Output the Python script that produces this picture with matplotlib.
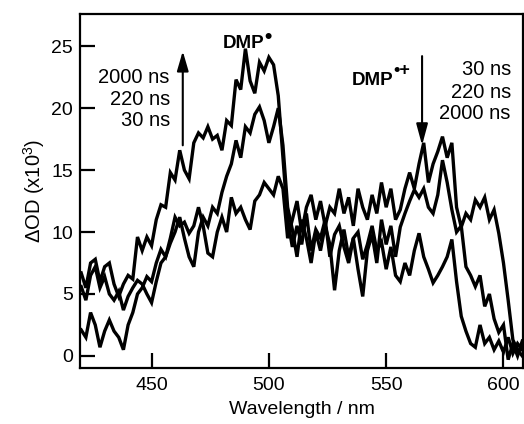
import matplotlib
matplotlib.use("Agg")
import matplotlib.pyplot as plt
import numpy as np

plt.rcParams['font.family'] = ['Liberation Sans', 'DejaVu Sans']
plt.rcParams['mathtext.fontset'] = 'custom'
plt.rcParams['mathtext.rm'] = 'Liberation Sans'
plt.rcParams['mathtext.it'] = 'Liberation Sans:italic'
plt.rcParams['mathtext.bf'] = 'Liberation Sans:bold'

wavelength = list(range(420, 609, 2))

od_2000ns = [6.7, 5.5, 7.5, 7.8, 6.0, 7.2, 7.5, 5.8, 4.8, 5.8,
             6.5, 6.2, 9.6, 8.5, 9.6, 8.9, 11.0, 12.2, 12.0, 14.8,
             14.2, 16.6, 15.0, 14.3, 17.2, 18.0, 17.6, 18.5, 17.5, 17.8,
             16.6, 19.0, 18.6, 22.3, 21.5, 24.8, 22.2, 21.2, 23.7, 23.0,
             24.1, 23.5, 21.0, 16.0, 11.0, 8.8, 10.5, 9.0, 11.5, 8.5,
             10.2, 9.5, 11.0, 8.0, 9.8, 10.5, 8.8, 7.5, 9.5, 10.0,
             7.8, 9.0, 10.5, 8.5, 9.2, 7.0, 8.8, 6.5, 6.0, 7.5,
             6.5, 8.5, 9.9, 8.0, 7.0, 5.9, 6.5, 7.2, 8.0, 9.4,
             6.0, 3.2, 2.0, 1.0, 0.7, 2.5, 1.0, 1.5, 0.5, 1.2,
             0.3, 1.5, 0.2, 1.0, 0.5]

od_220ns = [5.6, 4.5, 6.5, 7.2, 5.5, 6.4, 5.0, 4.5, 5.2, 3.7,
            4.8, 5.5, 6.1, 5.8, 5.0, 4.3, 6.0, 7.5, 8.0, 9.1,
            10.0, 11.2, 9.5, 8.0, 7.2, 10.0, 11.2, 10.5, 12.0, 11.5,
            13.2, 14.5, 15.5, 17.4, 16.0, 18.5, 18.0, 19.5, 20.1, 19.0,
            17.2, 18.5, 20.0, 17.0, 12.0, 10.2, 8.0, 11.0, 9.5, 7.5,
            10.0, 8.5, 10.5, 9.0, 5.3, 8.5, 10.2, 8.0, 9.5, 7.0,
            4.8, 8.5, 9.8, 7.5, 11.0, 9.0, 10.5, 8.0, 10.4, 11.5,
            12.5, 13.4, 12.8, 13.5, 12.0, 11.5, 13.0, 15.8, 14.0, 11.8,
            10.0, 10.5, 7.2, 6.5, 5.6, 6.5, 4.0, 5.0, 3.0, 1.9,
            2.5, -0.3, 1.0, 0.0, 1.2]

od_30ns = [2.1, 1.5, 3.5, 2.5, 0.7, 2.0, 2.9, 2.0, 1.5, 0.5,
           2.5, 3.5, 5.0, 5.5, 6.4, 6.0, 7.5, 8.6, 8.0, 9.5,
           11.2, 10.5, 10.8, 9.9, 10.5, 12.0, 10.5, 8.3, 8.0, 10.0,
           11.2, 10.0, 12.8, 11.5, 12.0, 11.0, 10.2, 12.5, 13.0, 14.0,
           13.5, 13.0, 14.5, 13.5, 9.5, 11.0, 12.5, 10.0, 12.0, 13.0,
           11.0, 12.5, 10.5, 12.0, 11.5, 13.5, 11.5, 12.8, 10.5, 13.5,
           12.0, 11.0, 13.0, 11.5, 14.0, 12.0, 13.5, 11.0, 11.8, 13.5,
           14.8, 13.5, 15.5, 17.2, 14.0, 15.5, 16.5, 17.7, 16.0, 17.2,
           12.0, 10.4, 11.5, 11.0, 12.6, 12.0, 12.8, 11.0, 11.8, 9.9,
           7.5, 4.5, 1.3, 0.5, 0.0]

x_ticks = [450, 500, 550, 600]
y_ticks = [0, 5, 10, 15, 20, 25]

fig = plt.figure(figsize=(5.24, 4.24), dpi=100)
ax = fig.add_axes([0.1527, 0.1328, 0.8453, 0.8342])

for series in (od_2000ns, od_220ns, od_30ns):
    ax.plot(wavelength, series, color='black', lw=2.4, solid_joinstyle='miter')

ax.set_xlim(419.5, 608.3)
ax.set_ylim(-0.95, 27.6)
ax.set_xticks(x_ticks)
ax.set_yticks(y_ticks)
ax.tick_params(axis='both', direction='in', length=11, width=1.6,
               labelsize=14, top=False, right=False)
ax.tick_params(axis='y', pad=5)
ax.tick_params(axis='x', pad=7)
for sp in ax.spines.values():
    sp.set_linewidth(1.6)

ax.set_xlabel('Wavelength / nm', fontsize=14, labelpad=5)
ax.set_ylabel('ΔOD (x10$^{3}$)', fontsize=14.5, labelpad=3)

# left annotation
ax.annotate('', xy=(463.3, 24.6), xytext=(463.3, 17.0),
            arrowprops=dict(arrowstyle='-|>,head_length=1.2,head_width=0.35',
                            color='black', lw=1.5, shrinkA=0, shrinkB=0))
for txt, yv in (('2000 ns', 22.5), ('220 ns', 20.7), ('30 ns', 19.0)):
    ax.text(457.8, yv, txt, ha='right', va='center', fontsize=14.5)

t1 = ax.text(480.2, 24.85, 'DMP', ha='left', va='baseline', fontsize=13.5,
             fontweight='bold')
ax.annotate('•', xy=(1, 1), xycoords=t1, xytext=(0.3, -1.5),
            textcoords='offset points', ha='left', va='center',
            fontsize=15, fontweight='bold')

# right annotation
ax.annotate('', xy=(565.3, 17.0), xytext=(565.3, 24.2),
            arrowprops=dict(arrowstyle='-|>,head_length=1.3,head_width=0.35',
                            color='black', lw=1.5, shrinkA=0, shrinkB=0))
for txt, yv in (('30 ns', 23.1), ('220 ns', 21.3), ('2000 ns', 19.6)):
    ax.text(603.1, yv, txt, ha='right', va='center', fontsize=14.5)

t2 = ax.text(535.2, 21.9, 'DMP', ha='left', va='baseline', fontsize=13.5,
             fontweight='bold')
ax.annotate('•+', xy=(1, 1), xycoords=t2, xytext=(0, 0.5),
            textcoords='offset points', ha='left', va='center',
            fontsize=13, fontweight='bold')

fig.savefig('out.png', dpi=100)
